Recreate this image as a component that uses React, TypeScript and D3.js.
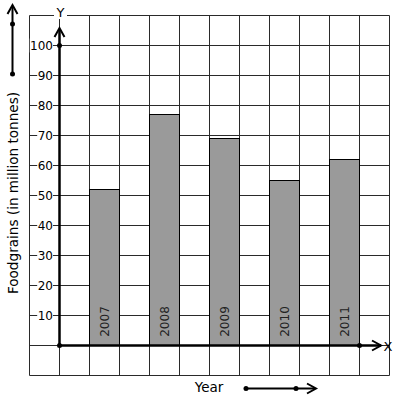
import React from "react";
import * as d3 from "d3";

const years = ["2007", "2008", "2009", "2010", "2011"];
const values = [52, 77, 69, 55, 62];
const yTicks = [10, 20, 30, 40, 50, 60, 70, 80, 90, 100];

const W = 397;
const H = 401;
const FONT = "DejaVu Sans, sans-serif";

export default function App() {
  // grid columns: -1 .. 11, axis at column 0
  const x = d3.scaleLinear().domain([-1, 11]).range([29.5, 389.5]);
  const y = d3.scaleLinear().domain([-10, 110]).range([375.5, 15.5]);
  const cols = d3.range(-1, 12);
  const rows = d3.range(-10, 111, 10);
  const grid = "#2a2a2a";

  const arrowHead = (px: number, py: number, dir: "up" | "right", key: string) => {
    const path = d3.path();
    if (dir === "up") {
      path.moveTo(px - 5, py + 9);
      path.lineTo(px, py);
      path.lineTo(px + 5, py + 9);
    } else {
      path.moveTo(px - 9, py - 5);
      path.lineTo(px, py);
      path.lineTo(px - 9, py + 5);
    }
    return <path key={key} d={path.toString()} fill="none" stroke="#000" strokeWidth={2} />;
  };

  return (
    <svg width={W} height={H} style={{ position: "absolute", left: 0, top: 0, background: "#fff" }} fontFamily={FONT}>
      <rect x={0} y={0} width={W} height={H} fill="#fff" />
      {cols.map((c) => (
        <line key={"v" + c} x1={x(c)} x2={x(c)} y1={y(-10)} y2={y(110)} stroke={grid} strokeWidth={1} />
      ))}
      {rows.map((r) => (
        <line key={"h" + r} x1={x(-1)} x2={x(11)} y1={y(r)} y2={y(r)} stroke={grid} strokeWidth={1} />
      ))}
      {values.map((v, i) => (
        <rect
          key={"b" + i}
          x={x(1 + 2 * i)}
          y={y(v)}
          width={x(2 + 2 * i) - x(1 + 2 * i)}
          height={y(0) - y(v)}
          fill="#9a9a9a"
          stroke="#000"
          strokeWidth={1}
        />
      ))}
      {years.map((yr, i) => {
        const cx = (x(1 + 2 * i) + x(2 + 2 * i)) / 2;
        const cy = y(0) - 24;
        return (
          <text
            key={"yl" + i}
            transform={`translate(${cx + 4},${cy}) rotate(-90)`}
            textAnchor="middle"
            fontSize={12}
            fill="#222"
          >
            {yr}
          </text>
        );
      })}
      {yTicks.map((t) => {
        const label = String(t);
        const w = label.length * 7.4 + 1;
        return (
          <g key={"t" + t}>
            <rect x={53 - w} y={y(t) - 7} width={w} height={14} fill="#fff" />
            <text x={53} y={y(t) + 4.5} textAnchor="end" fontSize={12} fill="#000">
              {label}
            </text>
          </g>
        );
      })}
      {/* axes */}
      <line x1={x(0)} x2={x(0)} y1={y(0)} y2={29} stroke="#000" strokeWidth={2.5} />
      {arrowHead(x(0), 28, "up", "ay")}
      <line x1={x(0)} x2={381} y1={y(0)} y2={y(0)} stroke="#000" strokeWidth={2.5} />
      {arrowHead(381, y(0), "right", "ax")}
      <circle cx={x(0)} cy={y(0)} r={2.5} fill="#000" />
      <circle cx={x(0)} cy={y(100)} r={2.5} fill="#000" />
      <circle cx={x(10)} cy={y(0)} r={2.5} fill="#000" />
      <rect x={54} y={6} width={13} height={13} fill="#fff" />
      <text x={x(0) + 1} y={17} textAnchor="middle" fontSize={13} fill="#000">Y</text>
      <text x={388} y={y(0) + 5} textAnchor="middle" fontSize={13} fill="#000">X</text>
      {/* left legend arrow */}
      <line x1={12.5} x2={12.5} y1={74} y2={6} stroke="#000" strokeWidth={2} />
      {arrowHead(12.5, 5, "up", "la")}
      <circle cx={12.5} cy={24} r={2.5} fill="#000" />
      <circle cx={12.5} cy={74} r={2.5} fill="#000" />
      <text transform={`translate(18,193) rotate(-90)`} textAnchor="middle" fontSize={13.6} fill="#000">
        Foodgrains (in million tonnes)
      </text>
      {/* bottom */}
      <text x={209} y={392} textAnchor="middle" fontSize={13.5} fill="#000">Year</text>
      <line x1={246} x2={315} y1={388.5} y2={388.5} stroke="#000" strokeWidth={2} />
      {arrowHead(316, 388.5, "right", "ba")}
      <circle cx={246} cy={388.5} r={2.5} fill="#000" />
      <circle cx={296} cy={388.5} r={2.5} fill="#000" />
    </svg>
  );
}
